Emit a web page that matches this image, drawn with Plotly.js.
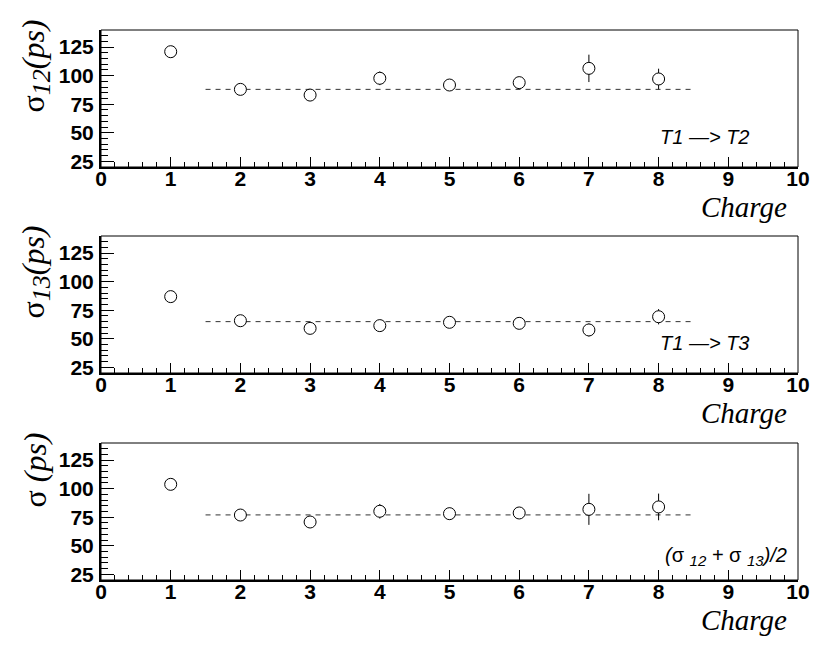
<!DOCTYPE html>
<html>
<head>
<meta charset="utf-8">
<script src="https://cdn.plot.ly/plotly-3.0.1.min.js"></script>
<style>html,body{margin:0;padding:0;background:#fff;}#chart{width:830px;height:654px;}</style>
</head>
<body>
<div id="chart"></div>
<script>
// ---- data ----
const charge = [1, 2, 3, 4, 5, 6, 7, 8];
const sigma12 = [121, 88, 83, 97.7, 91.8, 93.9, 106.4, 97.1];
const sigma12Err = [2.5, 2.5, 3, 6, 3, 3, 12, 9];
const sigma13 = [86.9, 65.8, 59.1, 61.5, 64.4, 63.5, 57.7, 69.3];
const sigma13Err = [2.5, 2.5, 2.5, 3, 3, 3, 5.7, 6.7];
const sigmaAvg = [103.8, 76.9, 70.8, 80.2, 78.1, 78.7, 81.9, 84];
const sigmaAvgErr = [2.5, 2.5, 2.5, 6.4, 5.2, 3, 13.6, 11.7];
const fitRange = [1.5, 8.5];
const fit12 = 88;
const fit13 = 65;
const fitAvg = 77;
const xTickVals = [0, 1, 2, 3, 4, 5, 6, 7, 8, 9, 10];
const yTickVals = [25, 50, 75, 100, 125];

const sub = s => '<sub><i><span style="font-size:26px">' + s + '</span></i></sub>';
const sub2 = s => '<sub><i><span style="font-size:15px">' + s + '</span></i></sub>';
const panels = [
  {y: sigma12, err: sigma12Err, fit: fit12, title: 'σ' + sub('12') + '<i>(ps)</i>', label: '<i>T1 —> T2</i>'},
  {y: sigma13, err: sigma13Err, fit: fit13, title: 'σ' + sub('13') + '<i>(ps)</i>', label: '<i>T1 —> T3</i>'},
  {y: sigmaAvg, err: sigmaAvgErr, fit: fitAvg, title: 'σ <i>(ps)</i>', label: '<i>(</i>σ ' + sub2('12') + '<i> + </i>σ ' + sub2('13') + '<i>)/2</i>'}
];

// ---- layout geometry ----
const W = 830, H = 654, L = 101, R = 32, T = 30, B = 74;
const pw = W - L - R, ph = H - T - B;
const panelTops = [30, 236, 443];
const panelH = 137;
const px2x = p => (p - L) / pw;
const py2y = p => (H - B - p) / ph;

const traces = [];
const layout = {
  width: W, height: H,
  margin: {l: L, r: R, t: T, b: B, pad: 0},
  paper_bgcolor: '#fff', plot_bgcolor: '#fff',
  showlegend: false,
  font: {family: 'Liberation Sans, Arial, sans-serif', color: '#000'},
  annotations: [], shapes: []
};

panels.forEach((p, i) => {
  const sfx = i === 0 ? '' : String(i + 1);
  const xa = 'x' + sfx, ya = 'y' + sfx;
  const top = panelTops[i], bot = top + panelH;
  traces.push({
    x: fitRange, y: [p.fit, p.fit], xaxis: xa, yaxis: ya,
    mode: 'lines', line: {color: '#333', width: 1, dash: '5px,5px'}, hoverinfo: 'skip'
  });
  traces.push({
    x: charge, y: p.y, xaxis: xa, yaxis: ya, mode: 'markers',
    marker: {symbol: 'circle', size: 12, color: '#fff', line: {color: '#000', width: 1}},
    error_y: {type: 'data', array: p.err, visible: true, color: '#000', thickness: 1, width: 0}
  });
  layout['xaxis' + sfx] = {
    domain: [0, 1], anchor: ya, range: [0, 10],
    tickvals: xTickVals, ticks: 'inside', ticklen: 10, tickwidth: 1, tickcolor: '#000',
    showline: true, linewidth: 2, linecolor: '#000', mirror: false,
    showgrid: false, zeroline: false, ticklabelstandoff: -8,
    tickfont: {family: 'Liberation Sans, Arial, sans-serif', size: 21, weight: 'bold', color: '#000'},
    minor: {dtick: 0.2, tick0: 0, ticks: 'inside', ticklen: 5, tickwidth: 1, tickcolor: '#000', showgrid: false}
  };
  layout['yaxis' + sfx] = {
    domain: [py2y(bot), py2y(top)], anchor: xa, range: [20, 140],
    tickvals: yTickVals, ticks: 'inside', ticklen: 13, tickwidth: 1, tickcolor: '#000',
    showline: true, linewidth: 2, linecolor: '#000', mirror: false,
    showgrid: false, zeroline: false, ticklabelstandoff: 1,
    tickfont: {family: 'Liberation Sans, Arial, sans-serif', size: 21, weight: 'bold', color: '#000'},
    minor: {dtick: 5, tick0: 0, ticks: 'inside', ticklen: 7, tickwidth: 1, tickcolor: '#000', showgrid: false}
  };
  layout.shapes.push({
    type: 'rect', xref: xa + ' domain', yref: ya + ' domain',
    x0: 0, x1: 1, y0: 0, y1: 1, line: {color: '#000', width: 1}
  });
  // y title
  layout.annotations.push({
    xref: 'paper', yref: 'paper', x: px2x(35), y: py2y(top - 12),
    xanchor: 'center', yanchor: 'top', textangle: -90, showarrow: false,
    text: p.title, font: {family: 'Liberation Serif, Times New Roman, serif', size: 32, color: '#000'}
  });
  // x title
  layout.annotations.push({
    xref: 'paper', yref: 'paper', x: px2x(789), y: py2y(bot + 40),
    xanchor: 'right', yanchor: 'middle', showarrow: false,
    text: '<i>Charge</i>', font: {family: 'Liberation Serif, Times New Roman, serif', size: 29, color: '#000'}
  });
  // inline label
  layout.annotations.push({
    xref: 'paper', yref: 'paper', x: px2x(i === 2 ? 789 : 751), y: py2y(top + (i === 2 ? 113 : 107)),
    xanchor: 'right', yanchor: 'middle', showarrow: false,
    text: p.label, font: {family: 'Liberation Sans, Arial, sans-serif', size: 20, color: '#000'}
  });
});

Plotly.newPlot('chart', traces, layout, {staticPlot: true, displayModeBar: false});
</script>
</body>
</html>
